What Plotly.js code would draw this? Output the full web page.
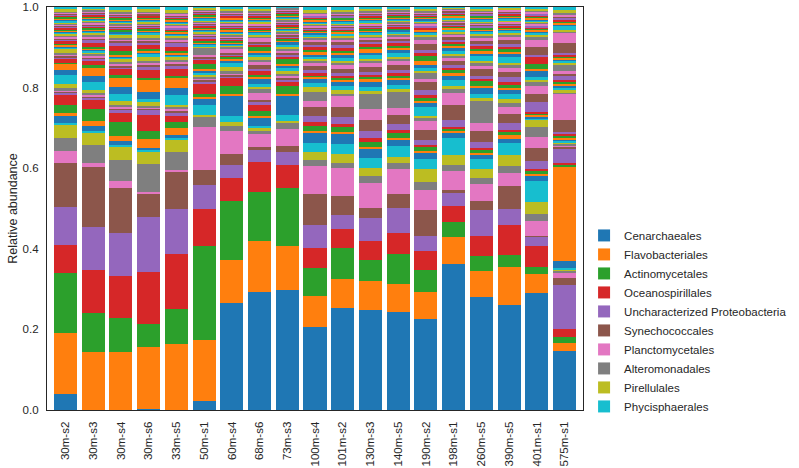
<!DOCTYPE html>
<html><head><meta charset="utf-8">
<script src="https://cdn.plot.ly/plotly-3.0.1.min.js"></script>
<style>html,body{margin:0;padding:0;background:#fff}#chart{width:799px;height:468px}</style>
</head><body><div id="chart"></div>
<script>
const samples = ["30m-s2","30m-s3","30m-s4","30m-s6","33m-s5","50m-s1","60m-s4","68m-s6","73m-s3","100m-s4","101m-s2","130m-s3","140m-s5","190m-s2","198m-s1","260m-s5","390m-s5","401m-s1","575m-s1"];

const legendNames = ["Cenarchaeales","Flavobacteriales","Actinomycetales","Oceanospirillales","Uncharacterized Proteobacteria","Synechococcales","Planctomycetales","Alteromonadales","Pirellulales","Phycisphaerales"];

const cenarchaeales   = [.040,0,0,.003,0,.023,.265,.292,.298,.206,.253,.249,.242,.226,.363,.280,.261,.290,.147];
const flavobacteriales= [.152,.144,.144,.153,.164,.151,.108,.127,.110,.078,.073,.072,.071,.068,.066,.066,.095,.048,.019];
const actinomycetales = [.148,.097,.085,.058,.087,.234,.145,.122,.142,.069,.076,.050,.073,.054,.038,.037,.029,.016,.014];
const oceanospirillales=[.069,.106,.103,.128,.137,.091,.058,.074,.059,.049,.047,.048,.053,.046,.039,.048,.075,.052,.021];
const unchProteobacteria=[.095,.107,.106,.137,.112,.059,.033,.029,.031,.056,.036,.058,.063,.037,.033,.065,.038,.024,.110];
const synechococcales = [.108,.150,.114,.057,.090,.037,.027,.008,.014,.077,.046,.025,.033,.065,.007,.022,.058,.002,.017];
const planctomycetales= [.030,.008,.017,.006,.006,.108,.056,.032,.044,.070,.070,.062,.062,.051,.047,.043,.033,.037,.011];
const alteromonadales = [.032,.046,.051,.068,.043,.026,.013,.008,.015,.015,.012,.016,.017,.018,.016,.015,.016,.017,.007];
const pirellulales    = [.032,.031,.033,.031,.033,.004,.010,.008,.004,.020,.023,.021,.014,.032,.023,.021,.027,.029,.003];
const phycisphaerales = [.006,.003,.004,.003,.003,.023,.015,.004,.016,.023,.025,.025,.027,.026,.044,.026,.030,.054,.004];

const otherNames = ["Rhodobacterales","Pelagibacterales","Cellvibrionales","Puniceispirillales","Nitrospinales","Thiomicrospirales","Rhodospirillales","Chromatiales","Burkholderiales","Marinimicrobia",
"Verrucomicrobiales","Sphingobacteriales","Cytophagales","Nitrosopumilales","Methylococcales","Legionellales","Thiotrichales","Desulfobacterales","Myxococcales","Bdellovibrionales",
"Acidimicrobiales","Rhizobiales","Caulobacterales","Sphingomonadales","Vibrionales","Pseudomonadales","Enterobacterales","Xanthomonadales","Chloroflexales","Anaerolineales",
"Dehalococcoidales","Opitutales","Puniceicoccales","Lentisphaerales","Victivallales","Gemmatimonadales","Nitrososphaerales","Thermoplasmatales","Marine Group II","Bacteroidales",
"Clostridiales","Lactobacillales","Bacillales","Corynebacteriales","Micrococcales","Propionibacteriales","Streptomycetales","Kiloniellales","Parvibaculales","Oligoflexales"];

// per-sample values for the remaining orders (order 11 .. order 60)
const o11=[.018,.013,.010,.007,.007,.017,.050,.020,.048,.025,.026,.023,.017,.015,.012,.011,.010,.011,.017];
const o12=[.006,.012,.014,.022,.017,.004,.003,.005,.003,.004,.004,.003,.004,.004,.005,.003,.011,.008,.232];
const o13=[.020,.029,.033,.019,.015,.008,.020,.013,.021,.012,.011,.014,.012,.011,.005,.008,.008,.004,.007];
const o14=[.028,.023,.022,.041,.015,.025,.020,.016,.008,.011,.008,.008,.008,.004,.004,.006,.003,.007,.003];
const o15=[.003,.006,.010,.012,.010,.004,.005,.008,.006,.014,.016,.018,.014,.012,.018,.014,.017,.018,.035];
const o16=[.004,.003,.003,.003,.004,.004,.004,.004,.004,.022,.025,.027,.022,.027,.036,.027,.023,.034,.005];
const o17=[.003,.003,.003,.003,.004,.005,.004,.016,.006,.017,.027,.029,.018,.022,.031,.021,.017,.027,.005];
const o18=[.004,.005,.004,.004,.004,.004,.004,.010,.004,.022,.006,.035,.039,.006,.010,.055,.010,.025,.004];
const o19=[.011,.008,.010,.010,.006,.004,.010,.006,.008,.012,.010,.008,.008,.006,.008,.006,.010,.017,.003];
const o20=[.023,.021,.017,.007,.024,.006,.012,.008,.010,.010,.010,.010,.010,.021,.015,.010,.012,.004,.004];
const o21=[.012,.015,.018,.017,.019,.006,.004,.012,.004,.010,.010,.012,.012,.010,.008,.014,.010,.004,.004];
const o22=[.015,.019,.022,.029,.023,.004,.004,.004,.004,.004,.004,.008,.005,.006,.008,.006,.006,.004,.004];
const o23=[.003,.006,.008,.006,.006,.012,.005,.006,.012,.005,.006,.005,.006,.008,.008,.012,.008,.004,.005];
const o24=[.010,.012,.014,.020,.018,.010,.005,.010,.006,.004,.005,.006,.006,.006,.005,.006,.006,.004,.004];
const o25=[.003,.004,.005,.008,.008,.004,.003,.005,.004,.008,.008,.006,.008,.012,.008,.008,.014,.025,.005];
const o26=[.004,.004,.004,.005,.004,.004,.004,.010,.004,.010,.010,.012,.012,.020,.010,.016,.012,.018,.030];
const o27=[.003,.003,.004,.004,.004,.004,.010,.008,.008,.008,.008,.010,.010,.008,.006,.008,.010,.022,.064];
const o28=[.005,.006,.005,.005,.005,.018,.004,.004,.004,.005,.006,.006,.006,.014,.006,.006,.006,.008,.005];
const o29=[.010,.004,.008,.010,.008,.004,.003,.006,.004,.004,.005,.005,.005,.006,.005,.006,.006,.006,.004];
const o30=[.003,.003,.004,.008,.004,.004,.003,.006,.005,.008,.008,.010,.010,.008,.008,.012,.014,.008,.005];
const o31=[.003,.003,.003,.004,.003,.003,.003,.005,.008,.004,.008,.005,.006,.006,.006,.006,.008,.014,.006];
const o32=[.003,.003,.004,.004,.004,.003,.003,.004,.003,.008,.004,.010,.006,.012,.005,.006,.006,.006,.005];
const o33=[.003,.004,.008,.004,.004,.003,.003,.012,.004,.004,.006,.005,.005,.012,.005,.006,.006,.012,.006];
const o34=[.008,.009,.012,.010,.010,.006,.003,.004,.004,.008,.006,.006,.006,.006,.005,.006,.006,.016,.005];
const o35=[.003,.010,.011,.006,.010,.004,.003,.004,.003,.004,.008,.005,.005,.008,.006,.006,.008,.006,.008];
const o36=[.003,.003,.003,.004,.004,.003,.003,.004,.003,.008,.008,.006,.006,.016,.006,.008,.010,.020,.006];
const o37=[.003,.003,.003,.004,.004,.003,.003,.010,.004,.004,.005,.005,.005,.008,.005,.006,.006,.016,.006];
const o38=[.003,.004,.004,.004,.004,.003,.003,.004,.003,.006,.006,.005,.005,.008,.005,.006,.006,.008,.018];
const o39=[.004,.006,.008,.008,.006,.003,.003,.004,.003,.004,.004,.004,.004,.006,.004,.005,.005,.006,.004];
const o40=[.003,.003,.003,.004,.003,.003,.003,.004,.003,.004,.004,.004,.004,.006,.004,.005,.005,.006,.004];
const o41=[.003,.002,.004,.003,.002,.004,.003,.002,.003,.004,.002,.003,.004,.003,.002,.003,.004,.002,.004];
const o42=[.003,.004,.002,.003,.004,.002,.003,.004,.003,.002,.004,.003,.002,.003,.004,.003,.002,.004,.004];
const o43=[.002,.003,.003,.004,.003,.002,.004,.003,.002,.003,.003,.004,.002,.002,.003,.004,.003,.003,.004];
const o44=[.004,.003,.003,.002,.003,.004,.002,.003,.004,.003,.003,.002,.004,.004,.003,.002,.003,.003,.004];
const o45=[.004,.003,.002,.003,.004,.003,.002,.003,.004,.002,.003,.003,.003,.004,.002,.003,.003,.004,.004];
const o46=[.002,.003,.004,.003,.002,.003,.004,.003,.002,.004,.003,.003,.003,.002,.004,.003,.003,.002,.025];
const o47=[.003,.004,.003,.002,.003,.003,.003,.004,.003,.003,.002,.004,.003,.003,.003,.002,.004,.003,.025];
const o48=[.003,.002,.003,.004,.003,.003,.003,.002,.003,.003,.004,.002,.003,.003,.003,.004,.002,.003,.004];
const o49=[.002,.003,.004,.003,.003,.002,.003,.003,.004,.003,.003,.002,.004,.003,.003,.003,.002,.004,.004];
const o50=[.004,.003,.002,.003,.003,.004,.003,.003,.002,.003,.003,.004,.002,.003,.003,.003,.004,.002,.009];
const o51=[.003,.003,.003,.004,.002,.003,.003,.004,.003,.002,.003,.003,.003,.004,.002,.003,.003,.003,.004];
const o52=[.003,.003,.003,.002,.004,.003,.003,.002,.003,.004,.003,.003,.003,.002,.004,.003,.003,.003,.004];
const o53=[.004,.002,.003,.003,.003,.004,.002,.003,.003,.003,.004,.002,.003,.003,.003,.004,.002,.003,.004];
const o54=[.002,.004,.003,.003,.003,.002,.004,.003,.003,.003,.002,.004,.003,.003,.003,.002,.004,.003,.004];
const o55=[.003,.003,.004,.002,.003,.003,.003,.003,.002,.004,.003,.003,.004,.003,.002,.003,.003,.004,.004];
const o56=[.003,.003,.002,.004,.003,.003,.003,.003,.004,.002,.003,.003,.002,.003,.004,.003,.003,.002,.004];
const o57=[.002,.003,.003,.003,.004,.003,.002,.003,.003,.003,.004,.003,.003,.002,.003,.003,.004,.003,.004];
const o58=[.004,.003,.003,.003,.002,.003,.004,.003,.003,.003,.002,.003,.003,.004,.003,.003,.002,.003,.004];
const o59=[.004,.003,.005,.004,.006,.002,.004,.005,.001,.006,.006,.005,.003,.004,.001,.004,.002,.004,.007];
const o60=[.009,.007,.010,.009,.011,.006,.008,.008,.004,.011,.010,.008,.007,.008,.005,.007,.006,.008,.011];

const palette = ["#1f77b4","#ff7f0e","#2ca02c","#d62728","#9467bd","#8c564b","#e377c2","#7f7f7f","#bcbd22","#17becf"];

const mainValues = [cenarchaeales,flavobacteriales,actinomycetales,oceanospirillales,unchProteobacteria,synechococcales,planctomycetales,alteromonadales,pirellulales,phycisphaerales];
const otherValues = [o11,o12,o13,o14,o15,o16,o17,o18,o19,o20,o21,o22,o23,o24,o25,o26,o27,o28,o29,o30,o31,o32,o33,o34,o35,o36,o37,o38,o39,o40,o41,o42,o43,o44,o45,o46,o47,o48,o49,o50,o51,o52,o53,o54,o55,o56,o57,o58,o59,o60];

const allValues = mainValues.concat(otherValues);
const allNames = legendNames.concat(otherNames);

const traces = allValues.map((vals, i) => ({
  type: 'bar',
  name: allNames[i],
  x: samples,
  y: vals,
  marker: {color: palette[i % 10], line: {width: 0}},
  showlegend: i < 10,
  hovertemplate: '%{x}<br>' + allNames[i] + ': %{y:.3f}<extra></extra>'
}));

const layout = {
  width: 799, height: 468,
  barmode: 'stack', bargap: 0.17,
  margin: {l: 47, r: 212, t: 7, b: 58, pad: 0},
  paper_bgcolor: '#ffffff', plot_bgcolor: '#ffffff',
  font: {family: '"Liberation Sans", Arial, sans-serif', size: 11, color: '#262626'},
  xaxis: {
    type: 'category', range: [-0.667, 18.667], tickangle: -90,
    showgrid: false, zeroline: false, ticks: '', ticklabelstandoff: 6,
    showline: true, linecolor: '#262626', linewidth: 1.25, mirror: true,
    tickfont: {size: 11.5, color: '#262626'}
  },
  yaxis: {
    range: [0, 1], dtick: 0.2, tick0: 0, tickformat: '.1f',
    showgrid: false, zeroline: false, ticks: '', ticklabelstandoff: 5,
    showline: true, linecolor: '#262626', linewidth: 1.25, mirror: true,
    tickfont: {size: 11.5, color: '#262626'},
    title: {text: 'Relative abundance', font: {size: 12.5, color: '#262626'}, standoff: 2}
  },
  legend: {
    x: 1.002, xanchor: 'left', y: 0.221, yanchor: 'middle',
    traceorder: 'normal', tracegroupgap: 0,
    font: {size: 11.5, color: '#262626'},
    bgcolor: 'rgba(0,0,0,0)', borderwidth: 0
  },
  showlegend: true
};

Plotly.newPlot('chart', traces, layout, {displayModeBar: false});
</script>
</body></html>
